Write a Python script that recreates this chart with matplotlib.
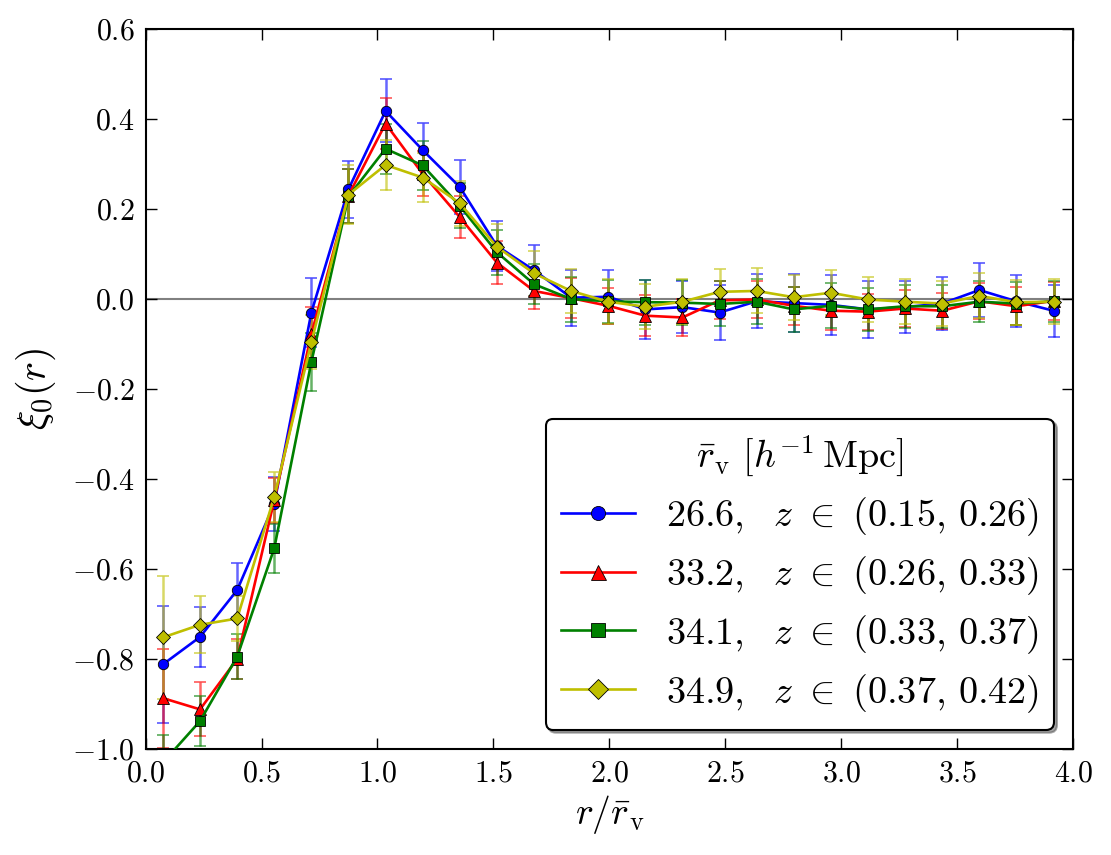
import numpy as np
import matplotlib
matplotlib.use("Agg")
import matplotlib.pyplot as plt
from matplotlib.ticker import FuncFormatter, MultipleLocator

# ------------------------------------------
# Data
# ------------------------------------------
r_over_rv = [0.075, 0.235, 0.395, 0.555, 0.715, 0.875, 1.035, 1.195, 1.355,
             1.515, 1.675, 1.835, 1.995, 2.155, 2.315, 2.475, 2.635, 2.795,
             2.955, 3.115, 3.275, 3.435, 3.595, 3.755, 3.915]

labels = [r"$26.6,\ \ z\ \in\ (0.15,\,0.26)$",
          r"$33.2,\ \ z\ \in\ (0.26,\,0.33)$",
          r"$34.1,\ \ z\ \in\ (0.33,\,0.37)$",
          r"$34.9,\ \ z\ \in\ (0.37,\,0.42)$"]

xi_blue = [-0.812, -0.751, -0.647, -0.455, -0.030, 0.244, 0.418, 0.331, 0.249,
           0.118, 0.064, 0.003, 0.005, -0.023, -0.018, -0.030, -0.005, -0.009,
           -0.013, -0.023, -0.018, -0.010, 0.020, -0.005, -0.026]
err_blue = [0.130, 0.067, 0.060, 0.060, 0.076, 0.063, 0.070, 0.060, 0.060,
            0.055, 0.057, 0.062, 0.060, 0.066, 0.058, 0.061, 0.060, 0.065,
            0.067, 0.063, 0.058, 0.058, 0.060, 0.058, 0.058]

xi_red = [-0.887, -0.912, -0.800, -0.447, -0.078, 0.230, 0.390, 0.278, 0.182,
          0.081, 0.018, 0.002, -0.015, -0.037, -0.041, -0.003, -0.001, -0.015,
          -0.026, -0.028, -0.021, -0.026, -0.005, -0.016, -0.004]
err_red = [0.110, 0.060, 0.045, 0.050, 0.060, 0.060, 0.056, 0.050, 0.047,
           0.048, 0.040, 0.045, 0.040, 0.045, 0.042, 0.042, 0.042, 0.042,
           0.042, 0.040, 0.042, 0.040, 0.040, 0.042, 0.042]

xi_green = [-1.030, -0.938, -0.795, -0.554, -0.140, 0.228, 0.334, 0.297, 0.207,
            0.104, 0.033, 0.000, -0.005, -0.007, -0.008, -0.011, -0.006, -0.023,
            -0.015, -0.023, -0.016, -0.016, -0.006, -0.010, -0.005]
err_green = [0.060, 0.055, 0.050, 0.055, 0.065, 0.060, 0.055, 0.055, 0.050,
             0.050, 0.045, 0.050, 0.048, 0.050, 0.050, 0.050, 0.050, 0.050,
             0.050, 0.048, 0.048, 0.048, 0.045, 0.048, 0.045]

xi_yellow = [-0.752, -0.724, -0.710, -0.440, -0.096, 0.232, 0.298, 0.270, 0.213,
             0.116, 0.057, 0.018, -0.006, -0.017, -0.006, 0.016, 0.018, 0.004,
             0.014, -0.001, -0.006, -0.010, 0.007, -0.007, -0.006]
err_yellow = [0.137, 0.063, 0.050, 0.055, 0.060, 0.065, 0.056, 0.054, 0.050,
              0.050, 0.050, 0.048, 0.050, 0.050, 0.050, 0.050, 0.050, 0.050,
              0.050, 0.050, 0.050, 0.050, 0.050, 0.050, 0.050]

# ------------------------------------------
# Style
# ------------------------------------------
plt.rcParams["font.family"] = "serif"
plt.rcParams["font.serif"] = ["cmr10", "DejaVu Serif"]
plt.rcParams["mathtext.fontset"] = "cm"
plt.rcParams["axes.formatter.use_mathtext"] = True
plt.rcParams["xtick.direction"] = "in"
plt.rcParams["ytick.direction"] = "in"

fig = plt.figure(figsize=(11.11, 8.55), dpi=100)
ax = fig.add_axes([0.131, 0.124, 0.835, 0.842])

ax.axhline(0.0, color="gray", lw=1.5, zorder=1)

series = [
    (xi_blue, err_blue, "b", "o", 7.5),
    (xi_red, err_red, "r", "^", 8),
    (xi_green, err_green, "g", "s", 7.5),
    (xi_yellow, err_yellow, "y", "D", 7.5),
]

for (vals, errs, col, mk, ms), lab in zip(series, labels):
    ax.errorbar(r_over_rv, vals, yerr=errs, fmt="none", ecolor=col,
                elinewidth=1.8, capsize=4.5, capthick=1.3, alpha=0.6, zorder=2)
    ax.plot(r_over_rv, vals, color=col, marker=mk, ms=ms, lw=1.9,
            mec="k", mew=0.6, label=lab, zorder=3)

ax.set_xlim(0, 4)
ax.set_ylim(-1.0, 0.6)
ax.xaxis.set_major_locator(MultipleLocator(0.5))
ax.yaxis.set_major_locator(MultipleLocator(0.2))
fmt = FuncFormatter(lambda v, _: r"$%.1f$" % (0.0 if abs(v) < 1e-9 else v))
ax.xaxis.set_major_formatter(fmt)
ax.yaxis.set_major_formatter(fmt)
ax.tick_params(which="both", top=True, right=True, length=8, width=1,
               labelsize=21.5, pad=8)
for sp in ax.spines.values():
    sp.set_linewidth(1.5)

ax.set_xlabel(r"$r/\bar{r}_\mathrm{v}$", fontsize=27, labelpad=4)
ax.set_ylabel(r"$\xi_0(r)$", fontsize=29, labelpad=10)

leg = ax.legend(loc="lower right", fontsize=27.5, numpoints=1,
                title=r"$\bar{r}_\mathrm{v}\ [h^{-1}\,\mathrm{Mpc}]$",
                title_fontsize=27.5, fancybox=True, shadow=True,
                markerscale=1.35, handlelength=1.95, handletextpad=0.8,
                labelspacing=0.42, borderaxespad=0.5, framealpha=1.0)
leg.get_frame().set_edgecolor("k")
leg.get_frame().set_linewidth(1.5)

plt.savefig("out.png", dpi=100)
